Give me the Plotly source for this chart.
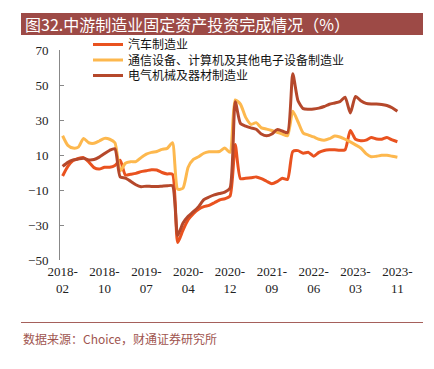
import plotly.graph_objects as go

# ---------------- data ----------------
categories = [f"{y}-{m:02d}" for y in range(2018, 2024) for m in range(2, 13)][:65]

auto = [-2, 3.5, 6.8, 8, 8.5, 6, 2.8, 2, 3, 3, 4,
        7, -1.4, -1, -0.5, 0.5, 1, 1.6, 1.4, 0, -0.8, -1,
        -40, -33, -27, -23.5, -21, -19.5, -18.8, -17.3, -15.7, -15, -13.5,
        16, -3.5, -3.3, -3, -2.5, -3.5, -5, -6.4, -5.2, -3.3, -4,
        12, 12.5, 11, 11.5, 9.3, 11.5, 12.6, 13, 13, 12.7, 13,
        24, 19, 18.2, 18.5, 20, 19.2, 19, 20, 18.6, 17.6]

comm = [21, 15.5, 14, 14.5, 19.5, 17, 16.7, 18, 19.5, 19, 17,
        1, 5.3, 6.2, 6.2, 8.5, 10.5, 11.5, 12, 13.2, 13.8, 17,
        -9.5, -9, 3, 7.5, 9, 11, 11.8, 11.9, 12, 14, 11.5,
        41.5, 39, 31.5, 27.5, 28.5, 25.5, 24.8, 24, 23, 22, 21,
        35, 29, 22.5, 21.4, 20.3, 19, 18.4, 19.3, 20.8, 20.3, 19,
        17.5, 15.8, 14, 10.8, 9, 9.3, 9.8, 9.8, 9.3, 8.7]

elec = [3.5, 5.8, 7.2, 7.7, 8.1, 7.2, 7.4, 8.8, 10.8, 12.7, 13.5,
        -2.5, -3.2, -5, -7, -8.1, -7.8, -8, -8, -7.8, -7.6, -7.5,
        -36, -29, -25, -22.4, -19.5, -15.5, -14, -12.8, -12, -11.2, -9,
        40.5, 28, 26.5, 25.5, 24.7, 22, 21, 22, 24.5, 23.7, 22.8,
        56.5, 41, 36.5, 36.2, 36.3, 36.8, 37.7, 39, 39.7, 40.5, 43,
        34, 43.5, 41, 39.5, 39.1, 39.1, 38.9, 38.3, 37, 35]

series_names = ["汽车制造业", "通信设备、计算机及其他电子设备制造业", "电气机械及器材制造业"]
series_colors = ["#E9521F", "#FDB84E", "#B5482B"]

y_ticks = [-50, -30, -10, 10, 30, 50, 70]
x_label_vals = categories[::8]
x_label_text = [c.replace("-", "-<br>") for c in x_label_vals]
minor_tick_pos = [-0.5 + 6 * k for k in range(11)]

title_text = "图32.中游制造业固定资产投资完成情况（%）"
source_text = "数据来源：Choice，财通证券研究所"

W, H = 434, 369
legend_rows_px = [45, 60.5, 76]

# ---------------- figure ----------------
fig = go.Figure()
legend_ids = ["legend", "legend2", "legend3"]
for name, vals, col, lg in zip(series_names, [auto, comm, elec], series_colors, legend_ids):
    fig.add_trace(go.Scatter(
        x=categories, y=vals, name=name, mode="lines", legend=lg,
        line=dict(color=col, width=3, shape="spline", smoothing=0.6),
    ))

serif = "Liberation Serif, Times New Roman, serif"
cjk = "Noto Sans CJK SC"

legend_common = dict(
    xref="container", yref="container", x=88 / W, xanchor="left", yanchor="top",
    bgcolor="rgba(0,0,0,0)", font=dict(family=cjk, size=12, color="#111"),
    itemwidth=30,
)

fig.update_layout(
    width=W, height=H,
    margin=dict(l=60, r=34, t=50, b=109, autoexpand=False),
    paper_bgcolor="white", plot_bgcolor="white",
    showlegend=True,
    legend=dict(y=1 - (legend_rows_px[0] - 15) / H, **legend_common),
    legend2=dict(y=1 - (legend_rows_px[1] - 15) / H, **legend_common),
    legend3=dict(y=1 - (legend_rows_px[2] - 15) / H, **legend_common),
    xaxis=dict(
        type="category", range=[-0.5, 64.5],
        tickmode="array", tickvals=x_label_vals, ticktext=x_label_text,
        ticks="", showline=False, showgrid=False, zeroline=False,
        tickfont=dict(family=serif, size=13, color="#222"),
        tickangle=0, ticklabelstandoff=2,
    ),
    xaxis2=dict(
        overlaying="x", anchor="free", position=50 / 120, side="bottom",
        type="linear", range=[-0.5, 64.5],
        tickmode="array", tickvals=minor_tick_pos,
        ticks="inside", ticklen=4, tickcolor="#888", tickwidth=1,
        showticklabels=False, showline=True, linecolor="#888", linewidth=1,
        showgrid=False, zeroline=False,
    ),
    yaxis=dict(
        range=[-50, 70], tickmode="array", tickvals=y_ticks,
        ticks="inside", ticklen=4, tickcolor="#888",
        showline=True, linecolor="#888", linewidth=1,
        showgrid=False, zeroline=False,
        tickfont=dict(family=serif, size=13, color="#222"),
        ticklabelstandoff=8,
    ),
)

# title bar
fig.add_shape(type="rect", xref="paper", yref="paper",
              x0=(21 - 60) / 340, x1=(423 - 60) / 340,
              y0=(260 - 35) / 210, y1=(260 - 13) / 210,
              fillcolor="#9D4A46", line=dict(width=0), layer="below")
fig.add_annotation(xref="paper", yref="paper", x=(23 - 60) / 340, y=(260 - 23.5) / 210,
                   xanchor="left", yanchor="middle", showarrow=False,
                   text=title_text, font=dict(family=cjk, size=16, color="white"))
# footer
fig.add_shape(type="line", xref="paper", yref="paper",
              x0=(21 - 60) / 340, x1=(423 - 60) / 340,
              y0=(260 - 322.5) / 210, y1=(260 - 322.5) / 210,
              line=dict(color="#A5605B", width=1))
fig.add_annotation(xref="paper", yref="paper", x=(21 - 60) / 340, y=(260 - 338) / 210,
                   xanchor="left", yanchor="middle", showarrow=False,
                   text=source_text, font=dict(family=cjk, size=12, color="#A0554F"))

fig.write_html("out.html", config={"displayModeBar": False},
               post_script="document.body.style.margin='0px';")
